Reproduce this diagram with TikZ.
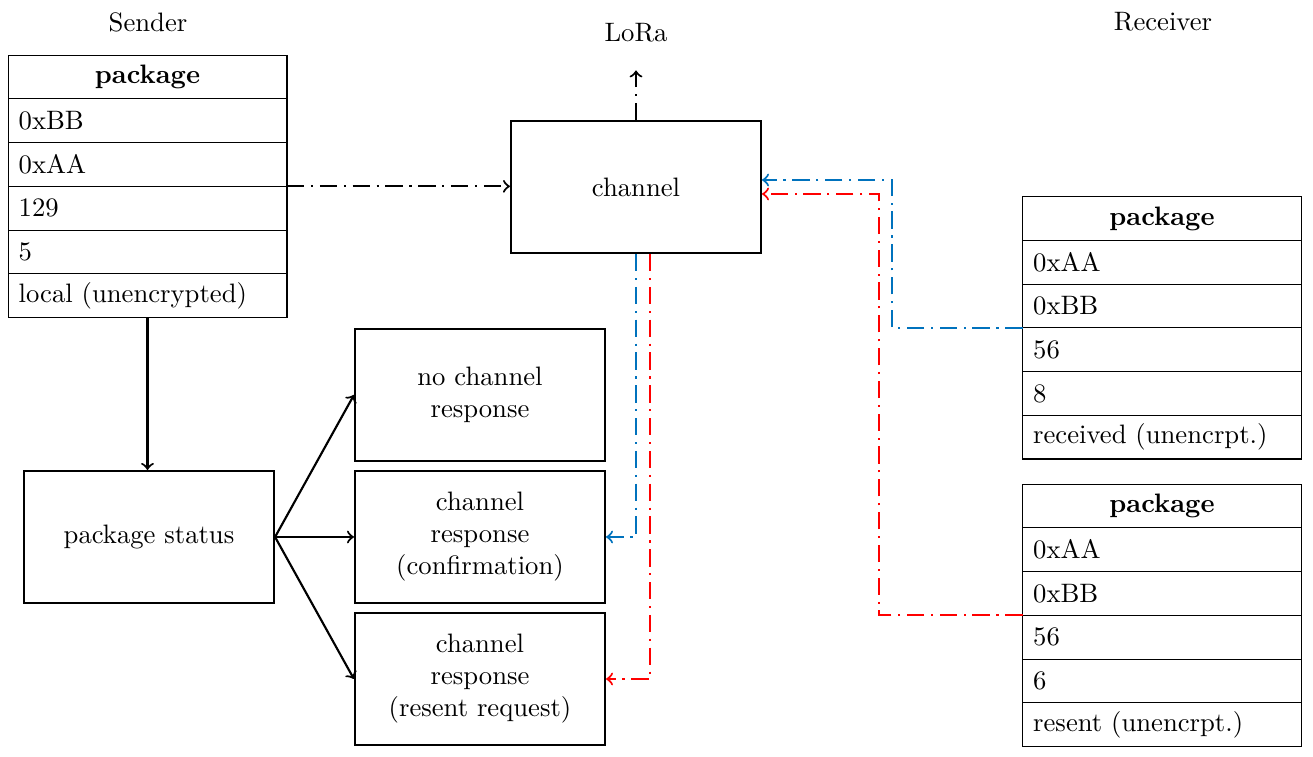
\documentclass[tikz,border=0pt]{standalone}
\usepackage{tikz}
\usetikzlibrary{arrows,positioning}
\definecolor{linkblue}{RGB}{0,114,189}
\definecolor{linkred}{RGB}{255,0,0}

\begin{document}
\begin{tikzpicture}[x=0.375pt,y=-0.375pt,>=to,
                    box/.style={draw,thick,minimum width=93.75pt,minimum height=49.5pt,
                                align=center,inner sep=2pt},
                    cell/.style={draw,thin,outer sep=0pt,inner xsep=4pt,inner ysep=0pt,
                                 text width=96.6pt,minimum height=16.4pt,align=left},
                    head/.style={cell,align=center,font=\bfseries},
                    flow/.style={->,thick},
                    link/.style={->,thick,dash pattern=on 6.5pt off 2.5pt on 0.8pt off 2.5pt}]
  \useasboundingbox (0,0) rectangle (1313,757);

  % titles
  \node (sender)   at (148,22)  {Sender};
  \node (lora)     at (636,33)  {LoRa};
  \node (receiver) at (1163,22) {Receiver};

  % sender package
  \node[head] (snd0) at (147.5,77) {package};
  \foreach \t [count=\i] in {0xBB,0xAA,129,5,local (unencrypted)} {
    \pgfmathtruncatemacro\j{\i-1}
    \node[cell,below=0pt of snd\j] (snd\i) {\t};
  }

  % receiver packages
  \node[head] (rcv0) at (1162,218.5) {package};
  \foreach \t [count=\i] in {0xAA,0xBB,56,8,received (unencrpt.)} {
    \pgfmathtruncatemacro\j{\i-1}
    \node[cell,below=0pt of rcv\j] (rcv\i) {\t};
  }
  \node[head] (rsn0) at (1162,506) {package};
  \foreach \t [count=\i] in {0xAA,0xBB,56,6,resent (unencrpt.)} {
    \pgfmathtruncatemacro\j{\i-1}
    \node[cell,below=0pt of rsn\j] (rsn\i) {\t};
  }

  % boxes
  \node[box] (channel) at (636,187) {channel};
  \node[box] (status)  at (149,537) {package status};
  \node[box] (nores)   at (480,395) {no channel\\response};
  \node[box] (confirm) at (480,537) {channel\\response\\(confirmation)};
  \node[box] (resent)  at (480,679) {channel\\response\\(resent request)};

  \coordinate (bturn) at (892,180);
  \coordinate (rturn) at (879,194);

  % connectors
  \draw[flow] (snd5.south) -- (snd5.south |- status.north);
  \path[flow] (status.east) edge (nores.west)
                            edge (confirm.west)
                            edge (resent.west);

  \draw[link] (snd2.south east) -- (snd2.south east -| channel.west);
  \draw[link,shorten >=7pt] (channel.north) -- (lora.south);

  \draw[link,linkblue] (rcv2.south west) -| (bturn) -- (bturn -| channel.east);
  \draw[link,linkred]  (rsn2.south west) -| (rturn) -- (rturn -| channel.east);
  \draw[link,linkblue] (channel.south) |- (confirm.east);
  \draw[link,linkred]  ([xshift=5.25pt]channel.south) |- (resent.east);
\end{tikzpicture}
\end{document}
